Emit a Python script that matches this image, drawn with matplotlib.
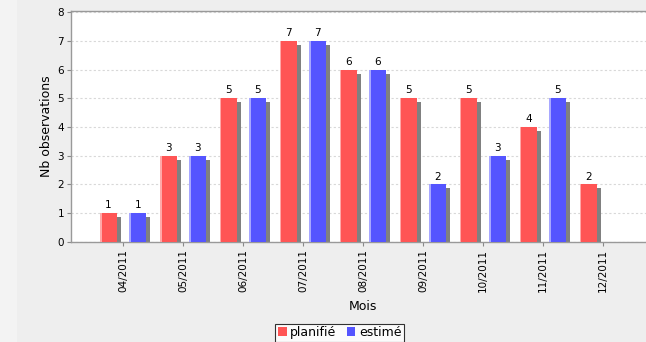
import matplotlib
matplotlib.use("Agg")
import matplotlib.pyplot as plt
import matplotlib.transforms as mtransforms
from matplotlib.patches import Rectangle
import numpy as np

months = ["04/2011", "05/2011", "06/2011", "07/2011", "08/2011",
          "09/2011", "10/2011", "11/2011", "12/2011"]
planifie = [1, 3, 5, 7, 6, 5, 5, 4, 2]
estime = [1, 3, 5, 7, 6, 2, 3, 5, 0]
series_names = ["planifié", "estimé"]

W, H = 646, 342
DPI = 100
fig = plt.figure(figsize=(W / DPI, H / DPI), dpi=DPI)
fig.patch.set_facecolor("#EEEEEE")
fig.patches.append(Rectangle((0, 0), 17 / W, 1, transform=fig.transFigure,
                             facecolor="#F3F3F3", edgecolor="none", zorder=-10))

ax = fig.add_axes([71 / W, (H - 241.7) / H, (655 - 71) / W, (241.7 - 10.5) / H])
ax.set_facecolor("white")

x = np.arange(len(months))
bw = 0.275
off = 0.245
colors = ["#FF5555", "#5555FF"]
light = ["#FFA8A8", "#A8A8FF"]

shadow_tr = mtransforms.offset_copy(ax.transData, fig=fig, x=4, y=-4, units="dots")

for vals, sign, col, lcol in [(planifie, -1, colors[0], light[0]),
                              (estime, 1, colors[1], light[1])]:
    pos = x + sign * off
    ax.bar(pos, vals, width=bw, color="#808080", transform=shadow_tr, zorder=2)
    ax.bar(pos, vals, width=bw, color=col, zorder=3)
    ax.bar(pos - bw / 2 + 0.012, vals, width=0.024, color=lcol, zorder=4)
    for p, v in zip(pos, vals):
        if v > 0:
            ax.annotate(str(v), (p, v), xytext=(0, 2), textcoords="offset points",
                        ha="center", va="bottom", fontsize=7.5, zorder=5)

ax.set_xlim(-0.867, 8.867)
ax.set_ylim(0, 8.056)
ax.set_yticks(range(0, 9))
ax.set_xticks(x)
ax.set_xticklabels(months, rotation=90, fontsize=7.5)
ax.tick_params(axis="y", labelsize=7.5, length=3, color="#888888", pad=2)
ax.tick_params(axis="x", length=3, color="#888888", pad=2)

ax.yaxis.grid(True, linestyle=(0, (2, 2)), color="#D8D8D8", linewidth=0.8)
ax.set_axisbelow(True)
for s in ["left", "bottom", "top"]:
    ax.spines[s].set_color("#999999")
    ax.spines[s].set_linewidth(1.0)
ax.spines["right"].set_visible(False)

ax.set_ylabel("Nb observations", fontsize=9, labelpad=3)
ax.set_xlabel("Mois", fontsize=9, labelpad=6)

handles = [Rectangle((0, 0), 1, 1, facecolor=c, edgecolor="none") for c in colors]
leg = fig.legend(handles, series_names, loc="lower center",
                 bbox_to_anchor=(339.7 / W, 0.5 / H), ncol=2, fontsize=9,
                 frameon=True, fancybox=False, handlelength=0.7, handleheight=0.7,
                 handletextpad=0.3, columnspacing=0.8, borderpad=0.2,
                 borderaxespad=0)
leg.get_frame().set_edgecolor("black")
leg.get_frame().set_linewidth(0.8)
leg.get_frame().set_facecolor("white")

fig.savefig("out.png", dpi=DPI, facecolor=fig.get_facecolor())
